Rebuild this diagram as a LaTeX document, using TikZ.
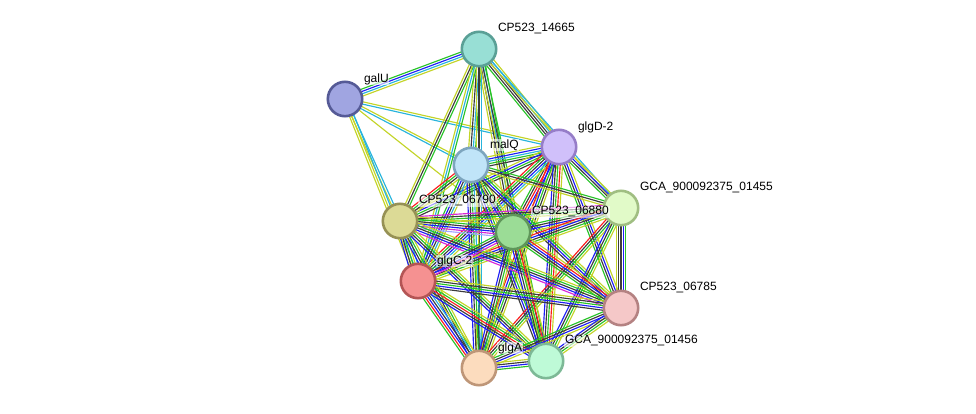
\documentclass[tikz,border=0pt]{standalone}
\usepackage{fontspec}
\setmainfont{Liberation Sans}
\usetikzlibrary{calc}

% evidence colours
\definecolor{textmin}{RGB}{195,212,40}
\definecolor{curated}{RGB}{40,180,220}
\definecolor{coexp}{RGB}{60,60,60}
\definecolor{neigh}{RGB}{40,195,40}
\definecolor{fusion}{RGB}{250,30,30}
\definecolor{cooc}{RGB}{30,30,245}
\definecolor{exper}{RGB}{215,40,215}
\definecolor{homol}{RGB}{165,165,255}

% protein colours (fill, border)
\definecolor{f14665}{RGB}{152,223,213}\definecolor{d14665}{RGB}{90,160,150}
\definecolor{fgalU}{RGB}{160,165,225}\definecolor{dgalU}{RGB}{85,90,150}
\definecolor{fglgD}{RGB}{208,192,250}\definecolor{dglgD}{RGB}{150,125,200}
\definecolor{fmalQ}{RGB}{192,228,248}\definecolor{dmalQ}{RGB}{125,165,190}
\definecolor{f1455}{RGB}{225,250,200}\definecolor{d1455}{RGB}{160,190,130}
\definecolor{f6790}{RGB}{220,218,150}\definecolor{d6790}{RGB}{150,145,85}
\definecolor{f6880}{RGB}{155,220,150}\definecolor{d6880}{RGB}{95,150,90}
\definecolor{fglgC}{RGB}{245,145,145}\definecolor{dglgC}{RGB}{180,85,85}
\definecolor{f6785}{RGB}{245,200,200}\definecolor{d6785}{RGB}{180,130,130}
\definecolor{fglgA}{RGB}{252,220,190}\definecolor{dglgA}{RGB}{190,150,120}
\definecolor{f1456}{RGB}{190,250,215}\definecolor{d1456}{RGB}{125,185,150}

\pgfdeclarelayer{edges}
\pgfsetlayers{edges,main}

\tikzset{
  prot/.style={circle, fill=f#1, draw=d#1, line width=2.6pt,
               minimum size=34.4pt, inner sep=0pt},
  lbl/.style={anchor=west, font=\fontsize{12}{14}\selectfont, fill=white,
              fill opacity=0.6, text opacity=1, inner sep=0.8pt},
  edgeline/.style={line width=1.15pt},
}

% parallel lines between two nodes, one per colour
\newcommand\bundle[3]{%
  \foreach \c [count=\n] in {#3} {\xdef\bcount{\n}}%
  \foreach \c [count=\i] in {#3} {%
    \pgfmathsetmacro\off{(\i-(\bcount+1)/2)*2.3}%
    \draw[edgeline, \c] ($(#1)!\off pt!90:(#2)$) -- ($(#2)!\off pt!-90:(#1)$);
  }}

\begin{document}
\begin{tikzpicture}[x=1pt, y=-1pt]
	\useasboundingbox (0,0) rectangle (976,414);

	% proteins
	\node[prot=14665] (cp14665) at (479,49) {};
	\node[prot=galU] (galU) at (345,99) {};
	\node[prot=glgD] (glgD) at (559,147) {};
	\node[prot=malQ] (malQ) at (471,165) {};
	\node[prot=1455] (gca1455) at (621,208) {};
	\node[prot=6790] (cp6790) at (400,221) {};
	\node[prot=6880] (cp6880) at (513,232) {};
	\node[prot=glgC] (glgC) at (418,281) {};
	\node[prot=6785] (cp6785) at (621,308) {};
	\node[prot=glgA] (glgA) at (479,368) {};
	\node[prot=1456] (gca1456) at (546,361) {};

	% labels
	\node[lbl] (cp14665-l) at ($(cp14665)+(18,-20)$) {CP523\_14665};
	\node[lbl] (galU-l) at ($(galU)+(18,-20)$) {galU};
	\node[lbl] (glgD-l) at ($(glgD)+(18,-20)$) {glgD-2};
	\node[lbl] (malQ-l) at ($(malQ)+(18,-20)$) {malQ};
	\node[lbl] (gca1455-l) at ($(gca1455)+(18,-20)$) {GCA\_900092375\_01455};
	\node[lbl] (cp6790-l) at ($(cp6790)+(18,-20)$) {CP523\_06790};
	\node[lbl] (cp6880-l) at ($(cp6880)+(18,-20)$) {CP523\_06880};
	\node[lbl] (glgC-l) at ($(glgC)+(18,-20)$) {glgC-2};
	\node[lbl] (cp6785-l) at ($(cp6785)+(18,-20)$) {CP523\_06785};
	\node[lbl] (glgA-l) at ($(glgA)+(18,-20)$) {glgA};
	\node[lbl] (gca1456-l) at ($(gca1456)+(18,-20)$) {GCA\_900092375\_01456};

	\begin{pgfonlayer}{edges}
	    % galU
	    \bundle{galU}{cp14665}{textmin,curated,cooc,neigh}
	    \bundle{galU}{glgD}{curated,textmin}
	    \bundle{galU}{malQ}{curated,textmin}
	    \bundle{galU}{cp6880}{textmin}
	    \bundle{galU}{cp6790}{textmin,curated}
	    \bundle{galU}{glgC}{textmin,textmin,curated}
	    % CP523_14665
	    \bundle{cp14665}{glgD}{neigh,coexp,coexp,curated,textmin}
	    \bundle{cp14665}{malQ}{textmin,coexp,curated,neigh}
	    \bundle{cp14665}{gca1455}{textmin,curated}
	    \bundle{cp14665}{cp6790}{textmin,coexp,neigh}
	    \bundle{cp14665}{cp6880}{textmin,coexp,curated,neigh}
	    \bundle{cp14665}{glgC}{textmin,curated,neigh}
	    \bundle{cp14665}{glgA}{textmin,coexp,curated}
	    \bundle{cp14665}{gca1456}{textmin,coexp,neigh}
	    % glgD-2
	    \bundle{glgD}{malQ}{textmin,cooc,curated,neigh,coexp}
	    \bundle{glgD}{gca1455}{neigh,coexp,cooc,textmin}
	    \bundle{glgD}{cp6790}{textmin,cooc,neigh,coexp}
	    \bundle{glgD}{cp6880}{neigh,coexp,fusion,cooc,textmin}
	    \bundle{glgD}{glgC}{fusion,neigh,coexp,cooc,curated,textmin}
	    \bundle{glgD}{cp6785}{neigh,coexp,cooc,textmin}
	    \bundle{glgD}{glgA}{fusion,cooc,neigh,coexp,textmin}
	    \bundle{glgD}{gca1456}{cooc,coexp,neigh,fusion,textmin}
	    % malQ
	    \bundle{malQ}{gca1455}{textmin,coexp,neigh}
	    \bundle{malQ}{cp6790}{fusion,neigh,coexp,textmin}
	    \bundle{malQ}{cp6880}{cooc,coexp,neigh,textmin}
	    \bundle{malQ}{glgC}{neigh,cooc,coexp,curated,textmin}
	    \bundle{malQ}{cp6785}{coexp,cooc,neigh,textmin}
	    \bundle{malQ}{glgA}{cooc,coexp,neigh,curated,textmin}
	    \bundle{malQ}{gca1456}{coexp,cooc,neigh,textmin}
	    % GCA_900092375_01455
	    \bundle{gca1455}{cp6790}{exper,coexp,neigh,textmin}
	    \bundle{gca1455}{cp6880}{neigh,coexp,cooc,textmin}
	    \bundle{gca1455}{glgC}{fusion,cooc,coexp,neigh,textmin}
	    \bundle{gca1455}{cp6785}{textmin,coexp,coexp,cooc,neigh}
	    \bundle{gca1455}{glgA}{fusion,coexp,neigh,textmin}
	    \bundle{gca1455}{gca1456}{cooc,coexp,neigh,textmin}
	    % CP523_06790
	    \bundle{cp6790}{cp6880}{homol,exper,cooc,coexp,neigh,textmin}
	    \bundle{cp6790}{glgC}{cooc,coexp,neigh,textmin,curated}
	    \bundle{cp6790}{cp6785}{exper,cooc,coexp,neigh,textmin}
	    \bundle{cp6790}{glgA}{cooc,coexp,neigh,textmin}
	    \bundle{cp6790}{gca1456}{cooc,coexp,neigh,textmin}
	    % CP523_06880
	    \bundle{cp6880}{glgC}{neigh,coexp,cooc,exper,textmin}
	    \bundle{cp6880}{cp6785}{neigh,coexp,cooc,fusion,textmin}
	    \bundle{cp6880}{glgA}{cooc,coexp,neigh,textmin}
	    \bundle{cp6880}{gca1456}{cooc,coexp,neigh,fusion,textmin}
	    % glgC-2
	    \bundle{glgC}{cp6785}{coexp,cooc,neigh,coexp,textmin}
	    \bundle{glgC}{glgA}{neigh,fusion,cooc,coexp,curated,textmin}
	    \bundle{glgC}{gca1456}{cooc,coexp,fusion,neigh,textmin}
	    % the rest
	    \bundle{cp6785}{glgA}{neigh,coexp,cooc,textmin}
	    \bundle{cp6785}{gca1456}{cooc,coexp,neigh,textmin}
	    \bundle{glgA}{gca1456}{neigh,cooc,coexp,textmin}
	\end{pgfonlayer}
\end{tikzpicture}
\end{document}
